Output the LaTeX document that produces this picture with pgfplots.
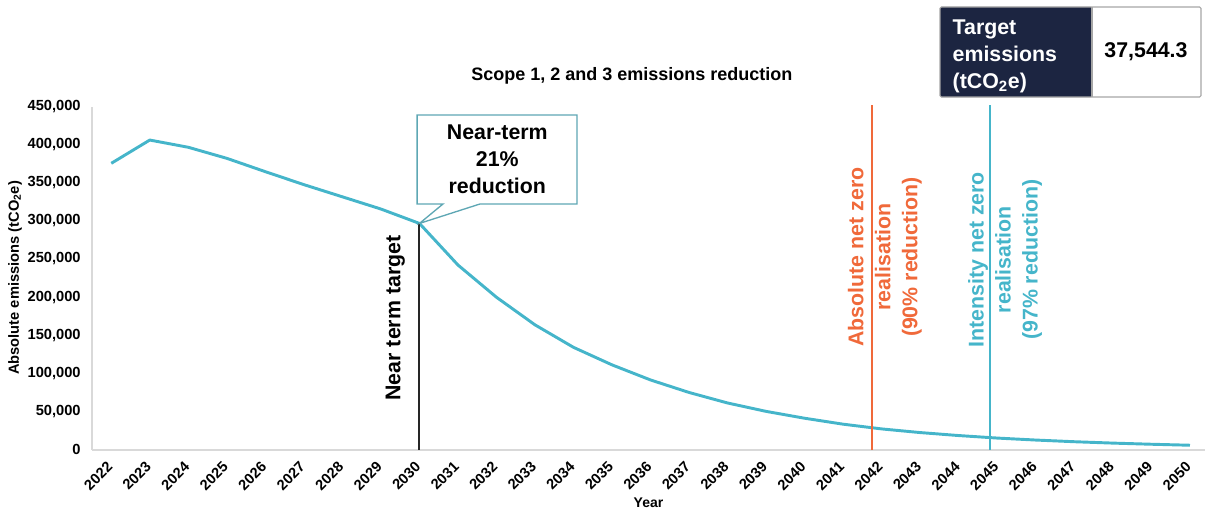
\documentclass[border=0pt]{standalone}
\usepackage{pgfplots}
\pgfplotsset{compat=1.18}
\usepackage{fontspec}
\setmainfont{Liberation Sans}
\definecolor{curve}{HTML}{45B5CA}
\definecolor{orng}{HTML}{F0693A}
\definecolor{navy}{HTML}{1C2541}
\definecolor{boxteal}{HTML}{5EA7B4}
\definecolor{axgray}{HTML}{D9D9D9}
\definecolor{blk}{HTML}{262626}
\pgfplotstableread{
year val
2022 375443
2023 406000
2024 396500
2025 382000
2026 364500
2027 347500
2028 331500
2029 315500
2030 296600
2031 242000
2032 199700
2033 163500
2034 134000
2035 111000
2036 91200
2037 74800
2038 61000
2039 50000
2040 41000
2041 33200
2042 27000
2043 22200
2044 18300
2045 15000
2046 12400
2047 10200
2048 8400
2049 6900
2050 5600
}\emis
\newcommand{\annfont}{\bfseries\fontsize{16}{20.25}\selectfont}
\begin{document}
\begin{tikzpicture}
\begin{axis}[
 at={(69pt,46.875pt)}, anchor=south west,
 scale only axis, width=834.75pt, height=257.25pt,
 xmin=2021.5, xmax=2050.39, ymin=0, ymax=450000,
 axis x line=bottom, axis y line=left,
 axis line style={axgray, line width=1.5pt, -},
 xtick={2022,...,2050}, ytick={0,50000,...,450000},
 major tick length=0pt,
 scaled y ticks=false,
 clip=false,
 /pgf/number format/assume math mode=true,
 tick label style={font=\bfseries\fontsize{11}{13}\selectfont, text=black},
 x tick label style={/pgf/number format/1000 sep={}, xshift=-1pt, yshift=-11pt, rotate=45, anchor=east, inner sep=0pt},
 y tick label style={/pgf/number format/fixed, /pgf/number format/1000 sep={,}, xshift=-5pt},
 title={Scope 1, 2 and 3 emissions reduction},
 title style={font=\bfseries\fontsize{13.5}{16}\selectfont, at={(axis description cs:0.485,1)}, anchor=center, yshift=17pt},
 xlabel={Year},
 xlabel style={font=\bfseries\fontsize{10.5}{12}\selectfont, at={(axis description cs:0.5,-0.156)}, anchor=center},
 ylabel={Absolute emissions (tCO\textsubscript{2}e)},
 ylabel style={font=\bfseries\fontsize{11}{12}\selectfont, at={(axis description cs:-0.0692,0.5)}, anchor=center},
]
\addplot[curve, line width=2.2pt, line join=round] table[x=year, y=val] {\emis};
\addplot[blk, line width=1.5pt] coordinates {(2030,0) (2030,296600)};
\addplot[orng, line width=1.3pt] coordinates {(2041.75,0) (2041.75,452000)};
\addplot[curve, line width=1.3pt] coordinates {(2044.8,0) (2044.8,452000)};
% callout
\filldraw[fill=white, draw=boxteal, line width=1pt, line join=miter]
  (axis cs:2030.61,322100) -- (axis cs:2030,296600) -- (axis cs:2031.57,322100)
  -- (axis cs:2034.09,322100) -- (axis cs:2034.09,438900) -- (axis cs:2029.94,438900)
  -- (axis cs:2029.94,322100) -- cycle;
\node[align=center, font=\annfont, text=black] at (axis cs:2032.02,380500) {Near-term\\21\%\\reduction};
\node[rotate=90, font=\annfont, text=black] at (axis cs:2029.37,172500) {Near term target};
\node[rotate=90, align=center, font=\annfont, text=orng] at (axis cs:2042.08,252600) {Absolute net zero\\realisation\\(90\% reduction)};
\node[rotate=90, align=center, font=\annfont, text=curve] at (axis cs:2045.2,249000) {Intensity net zero\\realisation\\(97\% reduction)};
\end{axis}
\begin{scope}[x=0.75pt,y=0.75pt]
% target table
\fill[navy, rounded corners=1pt] (940,505) rectangle (1092,415);
\draw[gray!70, line width=0.8pt, rounded corners=1pt] (940,505) rectangle (1201,415);
\draw[gray!70, line width=0.8pt] (1092,505) -- (1092,415);
\node[anchor=west, align=left, text=white, font=\annfont] at (948,456) {Target\\emissions\\(tCO\textsubscript{2}e)};
\node[font=\annfont, text=black] at (1146,460) {37,544.3};
\pgfresetboundingbox
\path[use as bounding box] (0,0) rectangle (1206,512);
\end{scope}
\end{tikzpicture}
\end{document}
